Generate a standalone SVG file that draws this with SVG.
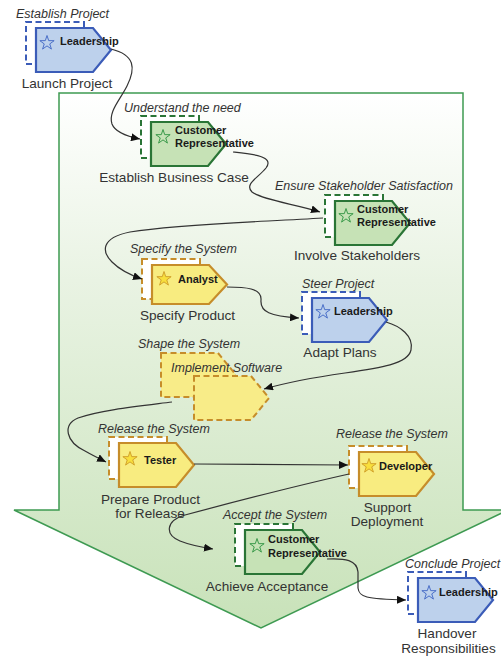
<svg xmlns="http://www.w3.org/2000/svg" xmlns:xlink="http://www.w3.org/1999/xlink" width="501" height="656" viewBox="0 0 501 656">
<style>
.lbl{font-family:"Liberation Sans",Arial,sans-serif;font-size:12.5px;font-style:italic;fill:#333}
.ttl{font-family:"Liberation Sans",Arial,sans-serif;font-size:13.6px;fill:#333;text-anchor:middle}
.role{font-family:"Liberation Sans",Arial,sans-serif;font-size:11px;font-weight:bold;fill:#1a1a1a}
.bk{stroke-width:2;stroke-dasharray:6,3.5;fill:#fff}
.fr{stroke-width:2.2}
.blue .bk,.blue .fr{stroke:#3b5cb8}
.blue .fr{fill:#bdd1ec}
.blue .st{fill:none;stroke:#4a6fc8;stroke-width:1}
.green .bk,.green .fr{stroke:#2a7536}
.green .fr{fill:#c6e2b6}
.green .st{fill:none;stroke:#3a9a4a;stroke-width:1}
.yellow .bk,.yellow .fr{stroke:#c68d2a}
.yellow .fr{fill:#f8ec80}
.yellow .st{fill:#f8df3c;stroke:#d2a22c;stroke-width:1}
.dsh{fill:#f8ec88;stroke:#c68d2a;stroke-width:2;stroke-dasharray:6,3.5}
.con{fill:none;stroke:#333;stroke-width:1.2;marker-end:url(#ah)}
</style>
<defs>
<linearGradient id="bg" gradientUnits="userSpaceOnUse" x1="0" y1="93" x2="0" y2="628">
<stop offset="0" stop-color="#ffffff"/>
<stop offset="0.35" stop-color="#e9f3e3"/>
<stop offset="1" stop-color="#c8e2b9"/>
</linearGradient>
<path id="pent" d="M0,0H57L75,22L57,44H0Z"/>
<path id="pents" d="M0,0H57L75,19.5L57,39H0Z"/>
<path id="star" d="M0,-7.5L1.7,-2.35L7.13,-2.32L2.76,0.9L4.41,6.07L0,2.9L-4.41,6.07L-2.76,0.9L-7.13,-2.32L-1.7,-2.35Z"/>
<marker id="ah" markerUnits="userSpaceOnUse" markerWidth="10" markerHeight="8" refX="9" refY="4" orient="auto">
<path d="M0,0L9,4L0,8Z" fill="#111"/>
</marker>
</defs>

<g id="bigarrow">
<path d="M59,93H463V510H508L261,628L14,510H59Z" fill="url(#bg)" stroke="#3e9a52" stroke-width="1.5"/>
</g>

<g id="n1" class="blue">
<rect class="bk" x="26" y="22" width="58" height="42"/>
<use class="fr" href="#pent" x="36" y="28"/>
<use class="st" href="#star" x="47" y="43"/>
<text class="role" x="60" y="45">Leadership</text>
<text class="lbl" x="16" y="18">Establish Project</text>
<text class="ttl" x="67" y="88">Launch Project</text>
</g>

<g id="n2" class="green">
<rect class="bk" x="141" y="116" width="58" height="42"/>
<use class="fr" href="#pent" x="151" y="122"/>
<use class="st" href="#star" x="163" y="137"/>
<text class="role" x="175" y="134">Customer</text>
<text class="role" x="175" y="147">Representative</text>
<text class="lbl" x="124" y="112">Understand the need</text>
<text class="ttl" x="174" y="182">Establish Business Case</text>
</g>

<g id="n3" class="green">
<rect class="bk" x="325" y="195" width="58" height="42"/>
<use class="fr" href="#pent" x="335" y="201"/>
<use class="st" href="#star" x="346" y="216"/>
<text class="role" x="357" y="213">Customer</text>
<text class="role" x="357" y="226">Representative</text>
<text class="lbl" x="275" y="190">Ensure Stakeholder Satisfaction</text>
<text class="ttl" x="357" y="260">Involve Stakeholders</text>
</g>

<g id="n4" class="yellow">
<rect class="bk" x="142" y="259" width="58" height="40"/>
<use class="fr" href="#pents" x="152" y="265"/>
<use class="st" href="#star" x="164" y="279"/>
<text class="role" x="178" y="283">Analyst</text>
<text class="lbl" x="130" y="253">Specify the System</text>
<text class="ttl" x="187.5" y="320">Specify Product</text>
</g>

<g id="n5" class="blue">
<rect class="bk" x="302" y="292" width="58" height="42"/>
<use class="fr" href="#pent" x="312" y="298"/>
<use class="st" href="#star" x="323" y="312"/>
<text class="role" x="334" y="315">Leadership</text>
<text class="lbl" x="302" y="288">Steer Project</text>
<text class="ttl" x="340" y="357">Adapt Plans</text>
</g>

<g id="n6">
<use class="dsh" href="#pent" x="161" y="353"/>
<use class="dsh" href="#pent" x="194" y="376"/>
<text class="lbl" x="138" y="348">Shape the System</text>
<text class="lbl" x="171" y="372">Implement Software</text>
</g>

<g id="n7" class="yellow">
<rect class="bk" x="109" y="437" width="58" height="42"/>
<use class="fr" href="#pent" x="119" y="443"/>
<use class="st" href="#star" x="130" y="459"/>
<text class="role" x="144" y="464">Tester</text>
<text class="lbl" x="98" y="433">Release the System</text>
<text class="ttl" x="150.5" y="504">Prepare Product</text>
<text class="ttl" x="150" y="518">for Release</text>
</g>

<g id="n8" class="yellow">
<rect class="bk" x="349" y="446" width="58" height="42"/>
<use class="fr" href="#pent" x="359" y="452"/>
<use class="st" href="#star" x="369" y="466"/>
<text class="role" x="379" y="470">Developer</text>
<text class="lbl" x="336" y="438">Release the System</text>
<text class="ttl" x="387.5" y="512">Support</text>
<text class="ttl" x="387" y="526">Deployment</text>
</g>

<g id="n9" class="green">
<rect class="bk" x="235" y="524" width="58" height="42"/>
<use class="fr" href="#pent" x="245" y="530"/>
<use class="st" href="#star" x="257" y="546"/>
<text class="role" x="268" y="543">Customer</text>
<text class="role" x="268" y="557">Representative</text>
<text class="lbl" x="223" y="519">Accept the System</text>
<text class="ttl" x="267" y="591">Achieve Acceptance</text>
</g>

<g id="n10" class="blue">
<rect class="bk" x="408" y="572" width="58" height="42"/>
<use class="fr" href="#pent" x="418" y="578"/>
<use class="st" href="#star" x="429" y="593"/>
<text class="role" x="439" y="596">Leadership</text>
<text class="lbl" x="405" y="568">Conclude Project</text>
<text class="ttl" x="447" y="637.5">Handover</text>
<text class="ttl" x="448.5" y="652.5">Responsibilities</text>
</g>

<g id="connectors">
<path class="con" d="M111,49C135,55 136,68 127,86C120,100 108,112 112,124C115,132 125,136 140,139"/>
<path class="con" d="M233,152C252,154 275,156 266,168C258,178 244,184 252,192C262,200 295,204 320,212"/>
<path class="con" d="M323,218C260,222 180,224 130,232C100,238 102,252 112,262C120,270 130,275 142,279"/>
<path class="con" d="M227,287C245,287 262,288 261,300C260,312 270,316 299,318"/>
<path class="con" d="M386,322C400,326 414,336 411,350C408,364 380,368 345,373C310,378 285,383 264,389"/>
<path class="con" d="M172,402C140,406 100,410 78,418C62,425 66,442 85,451C92,455 98,458 106,462"/>
<path class="con" d="M194,464L348,465"/>
<path class="con" d="M349,474C300,485 230,503 185,515C165,521 165,535 180,541C190,545 200,547 213,549"/>
<path class="con" d="M327,559C345,558 357,560 358,572L358,588C359,597 365,599 406,600"/>
</g>
</svg>
